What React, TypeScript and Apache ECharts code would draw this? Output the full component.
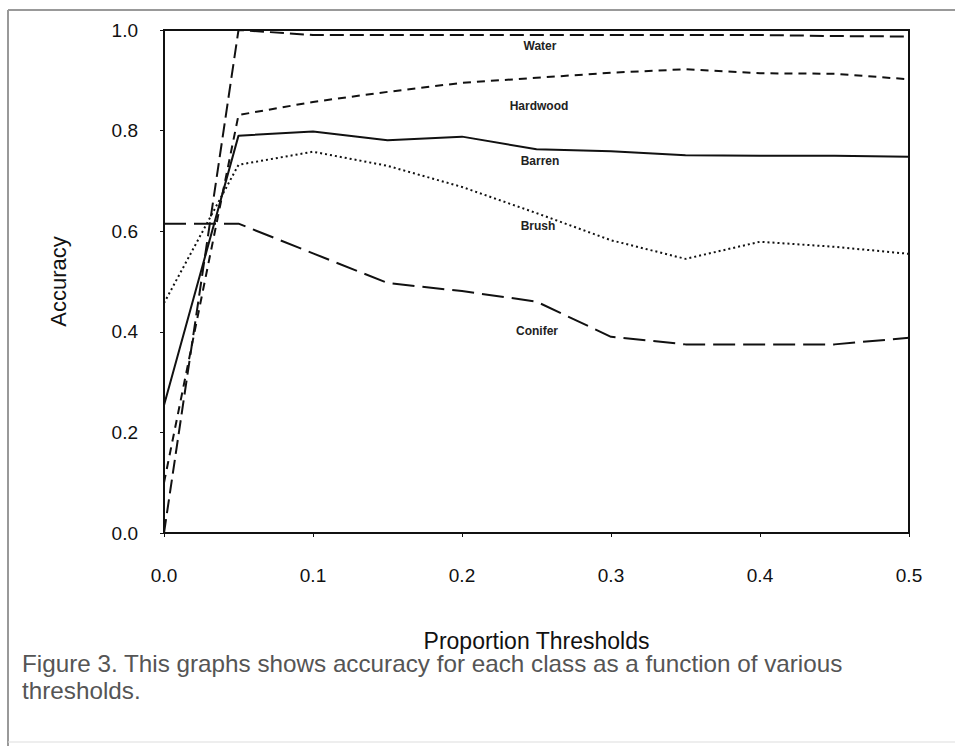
import React, { useEffect, useRef } from "react";
import * as echarts from "echarts";

const thresholds = [0, 0.05, 0.1, 0.15, 0.2, 0.25, 0.3, 0.35, 0.4, 0.45, 0.5];
const water = [0.0, 1.0, 0.99, 0.99, 0.99, 0.99, 0.99, 0.99, 0.99, 0.988, 0.987];
const hardwood = [0.1, 0.831, 0.857, 0.877, 0.895, 0.905, 0.915, 0.922, 0.914, 0.913, 0.902];
const barren = [0.254, 0.79, 0.798, 0.781, 0.788, 0.763, 0.759, 0.751, 0.75, 0.75, 0.748];
const brush = [0.457, 0.732, 0.758, 0.73, 0.688, 0.636, 0.582, 0.545, 0.579, 0.569, 0.555];
const conifer = [0.615, 0.615, 0.556, 0.497, 0.481, 0.46, 0.39, 0.375, 0.375, 0.375, 0.388];
const yTicks = [0, 0.2, 0.4, 0.6, 0.8, 1.0];
const xTicks = [0, 0.1, 0.2, 0.3, 0.4, 0.5];
const seriesLabels = ["Water", "Hardwood", "Barren", "Brush", "Conifer"];

export default function App() {
  const ref = useRef<HTMLDivElement>(null);
  useEffect(() => {
    document.body.style.margin = "0";
    const chart = echarts.init(ref.current!, null, { renderer: "svg" });
    const mk = (name: string, vals: number[], type: any) => ({
      name,
      type: "line",
      data: thresholds.map((t, i) => [t, vals[i]]),
      symbol: "none",
      lineStyle: { color: "#111", width: 2, type },
      z: 3,
    });
    const labelPos: [number, number][] = [
      [540, 46],
      [539, 106],
      [540, 161],
      [538, 226],
      [537, 331],
    ];
    chart.setOption({
      animation: false,
      backgroundColor: "#fff",
      grid: {
        left: 164,
        right: 46,
        top: 30,
        bottom: 213,
        show: true,
        borderColor: "#111",
        borderWidth: 2,
      },
      xAxis: {
        type: "value",
        min: 0,
        max: 0.5,
        interval: 0.1,
        name: "Proportion Thresholds",
        nameLocation: "middle",
        nameGap: 96,
        nameTextStyle: { fontFamily: "Liberation Sans", fontSize: 23, color: "#111" },
        axisLine: { show: true, lineStyle: { color: "#111", width: 2 } },
        axisTick: { show: true, length: 4, lineStyle: { color: "#111" } },
        axisLabel: {
          margin: 33,
          fontFamily: "Liberation Sans",
          fontSize: 19,
          color: "#111",
          formatter: (v: number) => (xTicks.some((t) => Math.abs(t - v) < 1e-9) ? v.toFixed(1) : ""),
        },
        splitLine: { show: false },
      },
      yAxis: {
        type: "value",
        min: 0,
        max: 1,
        interval: 0.2,
        name: "Accuracy",
        nameLocation: "middle",
        nameGap: 95,
        nameTextStyle: { fontFamily: "Liberation Sans", fontSize: 22, color: "#111" },
        axisLine: { show: true, lineStyle: { color: "#111", width: 2 } },
        axisTick: { show: true, length: 4, lineStyle: { color: "#111" } },
        axisLabel: {
          margin: 26,
          fontFamily: "Liberation Sans",
          fontSize: 19,
          color: "#111",
          formatter: (v: number) => (yTicks.some((t) => Math.abs(t - v) < 1e-9) ? v.toFixed(1) : ""),
        },
        splitLine: { show: false },
      },
      series: [
        mk("Water", water, [14, 6]),
        mk("Hardwood", hardwood, [8, 6]),
        mk("Barren", barren, "solid"),
        mk("Brush", brush, [2, 3]),
        mk("Conifer", conifer, [22, 8]),
      ],
      graphic: [
        { type: "line", shape: { x1: 8, y1: 10, x2: 955, y2: 10 }, style: { stroke: "#999", lineWidth: 2 } },
        { type: "line", shape: { x1: 8, y1: 10, x2: 8, y2: 746 }, style: { stroke: "#999", lineWidth: 2 } },
        { type: "line", shape: { x1: 8, y1: 742, x2: 955, y2: 742 }, style: { stroke: "#ddd", lineWidth: 1 } },
        ...seriesLabels.map((s, i) => ({
          type: "text",
          x: labelPos[i][0],
          y: labelPos[i][1],
          style: {
            text: s,
            fontFamily: "Liberation Sans",
            fontSize: 12,
            fontWeight: "bold",
            fill: "#222",
            align: "center",
            verticalAlign: "middle",
          },
        })),
        {
          type: "text",
          x: 22,
          y: 651,
          scaleX: 1.055,
          style: {
            text: "Figure 3. This graphs shows accuracy for each class as a function of various\nthresholds.",
            fontFamily: "Liberation Sans",
            fontSize: 23,
            lineHeight: 27,
            fill: "#555",
          },
        },
      ],
    });
    return () => chart.dispose();
  }, []);
  return <div ref={ref} style={{ width: 955, height: 746 }} />;
}
